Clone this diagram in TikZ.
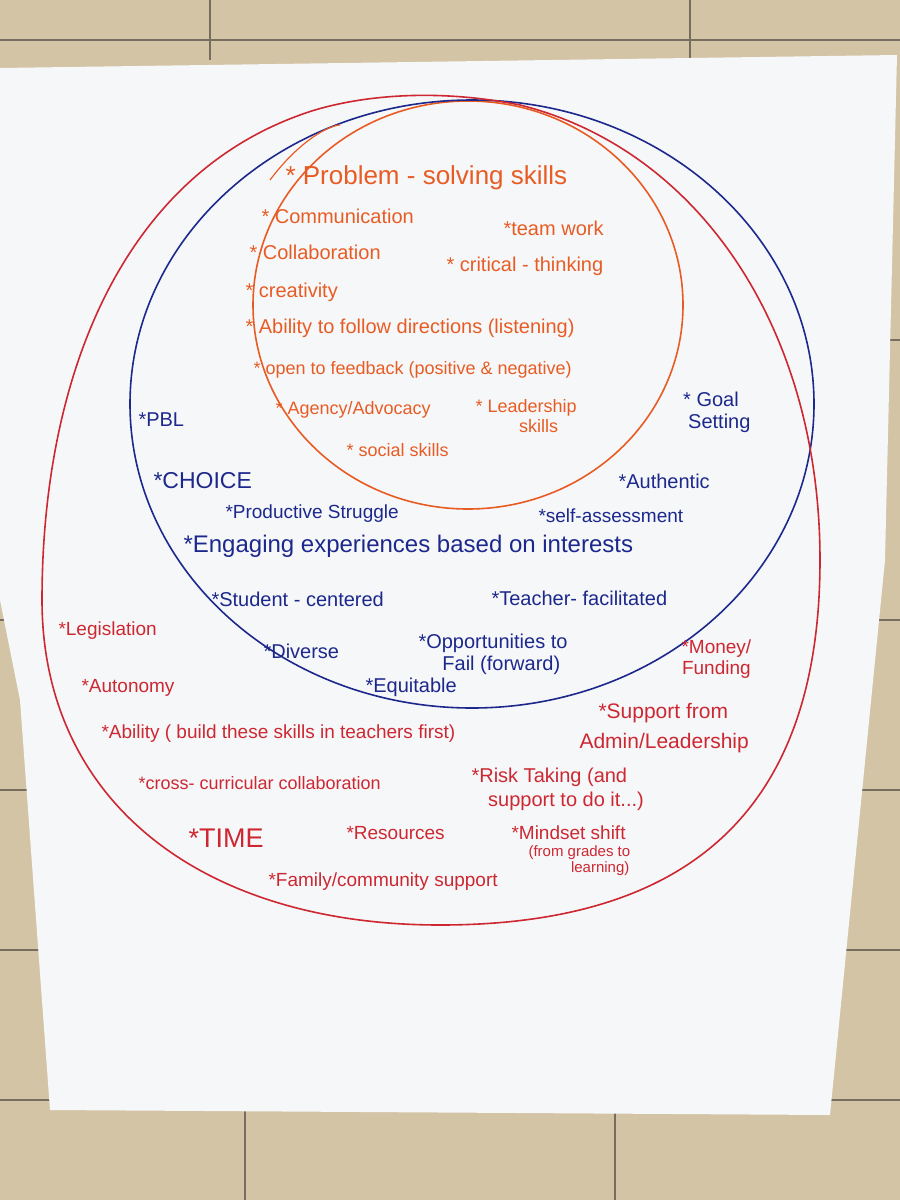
\documentclass[tikz,border=0pt]{standalone}
\usepackage{fontspec}
\setmainfont{Liberation Sans}
\definecolor{wall}{RGB}{212,196,166}
\definecolor{grout}{RGB}{120,110,95}
\definecolor{paper}{RGB}{246,247,249}
\definecolor{org}{RGB}{232,92,36}
\definecolor{blu}{RGB}{28,40,140}
\definecolor{rd}{RGB}{205,40,50}
\tikzset{
 o/.style={text=org,anchor=west,font=\fontsize{20}{22}\selectfont,align=center},
 b/.style={text=blu,anchor=west,font=\fontsize{20}{22}\selectfont,align=center},
 r/.style={text=rd,anchor=west,font=\fontsize{19}{21}\selectfont,align=center},
 ring/.style={line width=1.6pt}
}
\begin{document}
\begin{tikzpicture}[x=1pt,y=-1pt]
\useasboundingbox (0,0) rectangle (900,1200);
\fill[wall] (0,0) rectangle (900,1200);
\foreach \y in {40,340,620,790,950,1100}{\draw[grout,line width=2pt] (0,\y)--(900,\y);}
\foreach \x in {210,690}{\draw[grout,line width=2pt] (\x,0)--(\x,60);}
\foreach \x in {245,615}{\draw[grout,line width=2pt] (\x,1110)--(\x,1200);}
\fill[paper] (0,68) -- (897,55) -- (885,560) -- (830,1115) -- (50,1110) -- (20,700) -- (0,600) -- cycle;
% rings
\draw[org,ring] (468,305) ellipse [x radius=215, y radius=204];
\draw[blu,ring] (472,404) ellipse [x radius=342, y radius=304];
\draw[rd,ring] (300,115) .. controls (120,180) and (42,380) .. (42,600)
  .. controls (42,800) and (200,925) .. (440,925)
  .. controls (700,925) and (820,800) .. (820,560)
  .. controls (820,330) and (700,150) .. (520,105)
  .. controls (420,85) and (340,100) .. cycle;
\draw[org,line width=1.2pt] (270,180) .. controls (300,140) and (330,125) .. (340,125);
% orange text
\node[o,font=\fontsize{26}{28}\selectfont] (o1) at (282,178) {* Problem - solving skills};
\node[o] (o2) at (258,216) {* Communication};
\node[o] (o3) at (500,228) {*team work};
\node[o] (o4) at (246,252) {* Collaboration};
\node[o] (o5) at (443,266) {* critical - thinking};
\node[o] (o6) at (242,292) {* creativity};
\node[o] (o7) at (242,328) {* Ability to follow directions (listening)};
\node[o,font=\fontsize{18}{20}\selectfont] (o8) at (250,370) {* open to feedback (positive \& negative)};
\node[o,font=\fontsize{18}{20}\selectfont] (o9) at (272,410) {* Agency/Advocacy};
\node[o,font=\fontsize{18}{20}\selectfont,anchor=north west] (o10) at (472,396) {* Leadership\\\ \ \ \ \ skills};
\node[o,font=\fontsize{18}{20}\selectfont] (o11) at (343,450) {* social skills};
% blue text
\node[b] (b1) at (135,420) {*PBL};
\node[b,anchor=north west] (b2) at (668,388) {* Goal\\\ \ \ Setting};
\node[b,font=\fontsize{23}{25}\selectfont] (b3) at (150,481) {*CHOICE};
\node[b] (b4) at (615,481) {*Authentic};
\node[b,font=\fontsize{19}{21}\selectfont] (b5) at (222,514) {*Productive Struggle};
\node[b,font=\fontsize{19}{21}\selectfont] (b6) at (535,516) {*self-assessment};
\node[b,font=\fontsize{24}{26}\selectfont] (b7) at (180,546) {*Engaging experiences based on interests};
\node[b] (b8) at (208,599) {*Student - centered};
\node[b] (b9) at (488,598) {*Teacher- facilitated};
\node[b] (b10) at (260,651) {*Diverse};
\node[b,anchor=north west] (b11) at (415,630) {*Opportunities to\\\ \ \ Fail (forward)};
\node[b] (b12) at (362,687) {*Equitable};
% red text
\node[r] (r1) at (55,631) {*Legislation};
\node[r,anchor=north west] (r2) at (678,636) {*Money/\\Funding};
\node[r] (r3) at (78,688) {*Autonomy};
\node[r,font=\fontsize{21}{23}\selectfont] (r4) at (595,713) {*Support from};
\node[r,font=\fontsize{21}{23}\selectfont] (r5) at (576,743) {Admin/Leadership};
\node[r,font=\fontsize{19}{21}\selectfont] (r6) at (98,734) {*Ability ( build these skills in teachers first)};
\node[r,font=\fontsize{18}{20}\selectfont] (r7) at (135,783) {*cross- curricular collaboration};
\node[r,font=\fontsize{20}{24}\selectfont,align=left,anchor=north west] (r8) at (468,764) {*Risk Taking (and\\\ \ \ support to do it...)};
\node[r,font=\fontsize{27}{29}\selectfont] (r9) at (185,838) {*TIME};
\node[r] (r10) at (343,833) {*Resources};
\node[r,anchor=north west] (r11) at (508,822) {*Mindset shift};
\node[r,font=\fontsize{15}{16}\selectfont,anchor=north west] (r12) at (525,842) {(from grades to\\\ \ \ \ \ \ \ \ \ \ learning)};
\node[r] (r13) at (265,882) {*Family/community support};
\end{tikzpicture}
\end{document}
